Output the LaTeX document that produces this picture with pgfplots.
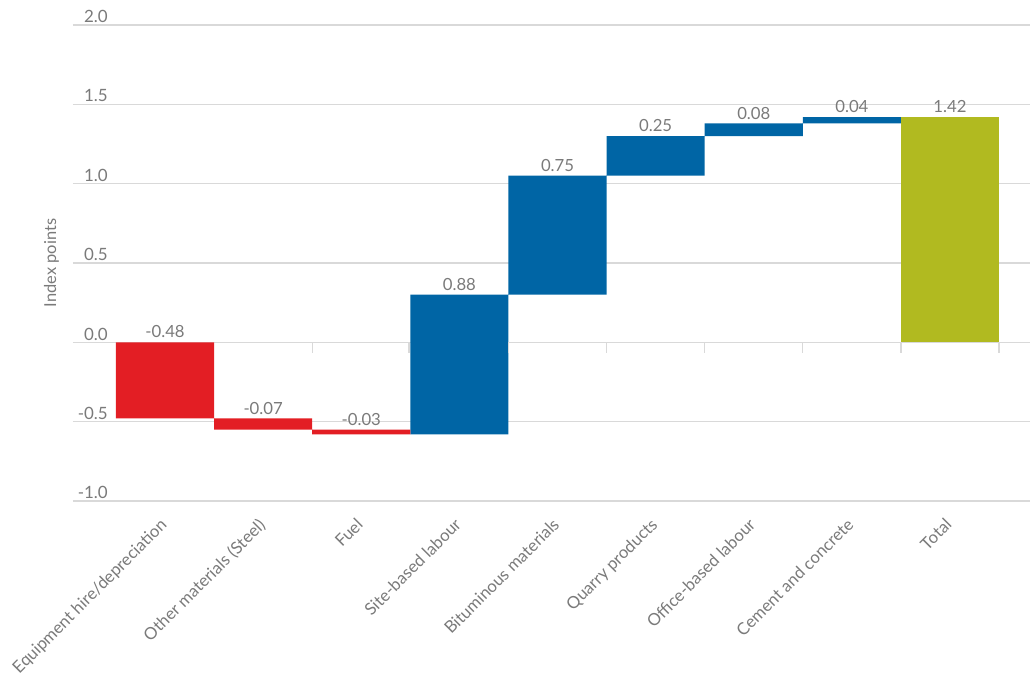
\documentclass[border=0pt]{standalone}
\usepackage{fontspec}
\setmainfont{Lato}
\usepackage{pgfplots}
\pgfplotsset{compat=1.18}
\definecolor{txt}{RGB}{122,122,122}
\definecolor{gridc}{RGB}{217,217,217}
\definecolor{wred}{RGB}{227,30,36}
\definecolor{wblue}{RGB}{0,101,165}
\definecolor{wgreen}{RGB}{177,186,32}
\pgfplotsset{common/.style={
  at={(0,0)}, anchor=south west,
  scale only axis, width=957bp, height=476bp,
  xmin=-0.938, xmax=8.815, ymin=-1, ymax=2, clip=false}}
\begin{document}
\begin{tikzpicture}
\useasboundingbox (-73bp,-176bp) rectangle (957bp,501bp);
\begin{axis}[
  common,
  ybar stacked, stack negative=on previous, bar width=1.0,
  axis line style={draw=none},
  major tick length=0pt,
  ytick={-1,-0.5,0,0.5,1,1.5,2},
  yticklabels={-1.0,-0.5,0.0,0.5,1.0,1.5,2.0},
  yticklabel style={anchor=south east, inner sep=0pt, xshift=35bp, yshift=2bp,
    font=\fontsize{17}{19}\selectfont, text=txt},
  ymajorgrids, grid style={gridc, line width=1.3bp},
  xtick={0,...,8},
  xticklabels={Equipment hire/depreciation, Other materials (Steel), Fuel,
    Site-based labour, Bituminous materials, Quarry products,
    Office-based labour, Cement and concrete, Total},
  xticklabel style={yshift=-16bp, xshift=-6bp, rotate=45, anchor=north east, inner sep=0pt,
    font=\fontsize{16.8}{18}\selectfont, text=txt},
  ylabel={Index points},
  ylabel style={at={(axis description cs:-0.0146,0.5)}, anchor=south,
    inner sep=0pt, font=\fontsize{16.5}{18}\selectfont, text=txt},
]
\pgfplotsinvokeforeach{1.5,2.485,3.5,4.5,5.5,6.5,7.5,8.5}{
  \draw[gridc, line width=1.3bp] (axis cs:#1,0) -- ++(0bp,-11bp);
}
% invisible base (lower edge of each bar)
\addplot[draw=none, fill=none] coordinates
  {(0,-0.48) (1,-0.55) (2,-0.58) (3,-0.58) (4,0.30) (5,1.05) (6,1.30) (7,1.38) (8,0)};
% red (decreases)
\addplot[draw=none, fill=wred] coordinates
  {(0,0.48) (1,0.07) (2,0.03) (3,0) (4,0) (5,0) (6,0) (7,0) (8,0)};
% blue (increases)
\addplot[draw=none, fill=wblue] coordinates
  {(0,0) (1,0) (2,0) (3,0.88) (4,0.75) (5,0.25) (6,0.08) (7,0.04) (8,0)};
% green (total)
\addplot[draw=none, fill=wgreen] coordinates
  {(0,0) (1,0) (2,0) (3,0) (4,0) (5,0) (6,0) (7,0) (8,1.42)};
\end{axis}
% value labels at the upper edge of each bar
\begin{axis}[common, hide axis]
\addplot[only marks, mark=none, nodes near coords,
  point meta=explicit symbolic,
  every node near coord/.append style={anchor=south, inner sep=0pt, yshift=4bp,
    font=\fontsize{16.8}{18}\selectfont, text=txt}] coordinates
  {(0,0) [-0.48] (1,-0.48) [-0.07] (2,-0.55) [-0.03] (3,0.30) [0.88] (4,1.05) [0.75]
   (5,1.30) [0.25] (6,1.38) [0.08] (7,1.42) [0.04] (8,1.42) [1.42]};
\end{axis}
\end{tikzpicture}
\end{document}
